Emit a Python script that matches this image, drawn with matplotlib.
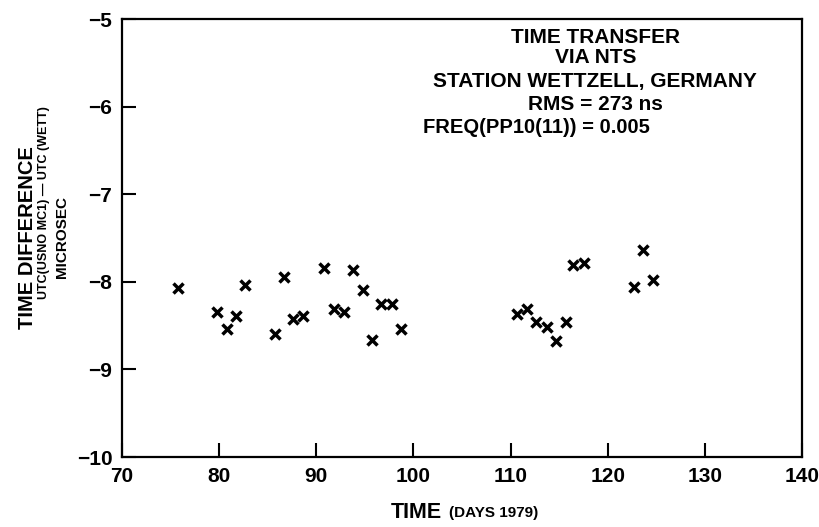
import matplotlib.pyplot as plt

plt.rcParams['font.family'] = ['Liberation Sans', 'DejaVu Sans']
plt.rcParams['font.weight'] = 'bold'

# time (days 1979) and UTC(USNO MC1) - UTC(WETT) in microseconds
days = [75.8, 79.75, 80.78, 81.74, 82.69, 85.75, 86.65, 87.64, 88.66,
        90.76, 91.86, 92.88, 93.75, 94.78, 95.77, 96.66, 97.76, 98.72,
        110.63, 111.69, 112.65, 113.75, 114.68, 115.68, 116.46, 117.53,
        122.74, 123.63, 124.63]
diff = [-8.07, -8.35, -8.54, -8.39, -8.04, -8.60, -7.94, -8.42, -8.39,
        -7.84, -8.31, -8.34, -7.87, -8.09, -8.66, -8.25, -8.25, -8.54,
        -8.37, -8.31, -8.46, -8.52, -8.68, -8.46, -7.81, -7.79,
        -8.06, -7.64, -7.98]

xticks = [70, 80, 90, 100, 110, 120, 130, 140]
yticks = [-10, -9, -8, -7, -6, -5]

fig = plt.figure(figsize=(8.2, 5.27), dpi=100)
ax = fig.add_axes([0.1488, 0.1328, 0.8293, 0.8311])

ax.plot(days, diff, 'x', color='black', markersize=7.5, markeredgewidth=2.5)

ax.set_xlim(70, 140)
ax.set_ylim(-10, -5)
ax.set_xticks(xticks)
ax.set_yticks(yticks)
ax.tick_params(direction='in', length=10, width=1.5, labelsize=15)
ax.tick_params(axis='x', pad=7)
ax.tick_params(axis='y', pad=7)
for s in ax.spines.values():
    s.set_linewidth(1.6)

lines = [('TIME TRANSFER', 0.957), ('VIA NTS', 0.913),
         ('STATION WETTZELL, GERMANY', 0.858), ('RMS = 273 ns', 0.804)]
for txt, yy in lines:
    ax.text(0.696, yy, txt, transform=ax.transAxes, ha='center', va='center',
            fontsize=15, fontweight='bold')
ax.text(0.443, 0.753, 'FREQ(PP10(11)) = 0.005', transform=ax.transAxes,
        ha='left', va='center', fontsize=14.5, fontweight='bold')

# y label, three lines
fig.text(28 / 820, 1 - 238 / 527, 'TIME DIFFERENCE', rotation=90,
         ha='center', va='center', fontsize=14.5, fontweight='bold')
fig.text(44 / 820, 1 - 203 / 527, 'UTC(USNO MC1) \u2014 UTC (WETT)', rotation=90,
         ha='center', va='center', fontsize=9, fontweight='bold')
fig.text(62 / 820, 1 - 237 / 527, 'MICROSEC', rotation=90,
         ha='center', va='center', fontsize=11, fontweight='bold')

# x label
fig.text(442 / 820, 1 - 512 / 527, 'TIME', ha='right', va='center',
         fontsize=15.5, fontweight='bold')
fig.text(449 / 820, 1 - 513 / 527, '(DAYS 1979)', ha='left', va='center',
         fontsize=11, fontweight='bold')

fig.savefig('out.png', dpi=100)
